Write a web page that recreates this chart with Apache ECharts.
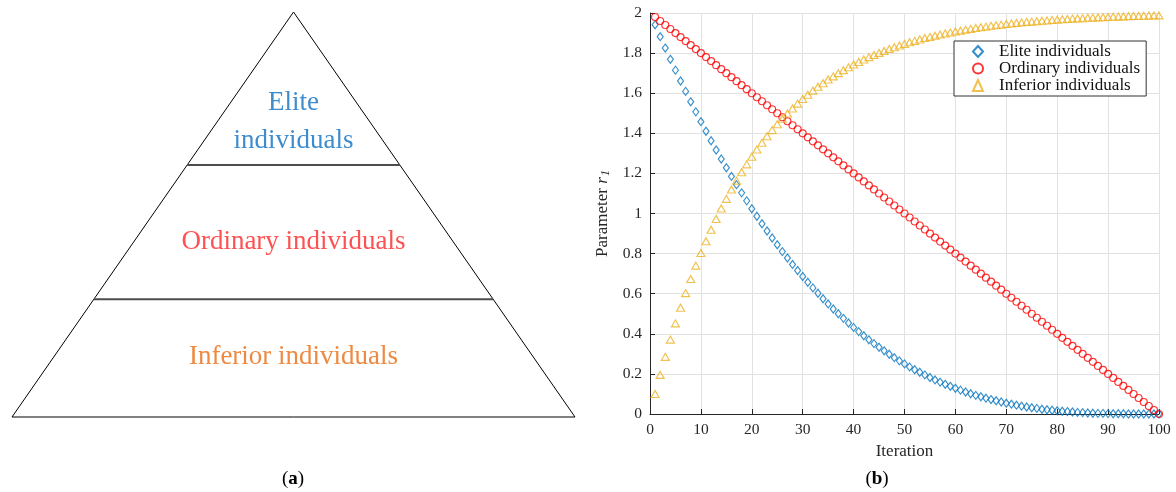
<!DOCTYPE html>
<html>
<head>
<meta charset="utf-8">
<script src="https://cdn.jsdelivr.net/npm/echarts@6/dist/echarts.min.js"></script>
<style>
  html, body { margin: 0; padding: 0; background: #fff; }
  #c { width: 1176px; height: 492px; }
</style>
</head>
<body>
<div id="c"></div>
<script>
// ---- panel (b) data: parameter r1 per iteration ----
const iterations = [
  1,2,3,4,5,6,7,8,9,10,11,12,13,14,15,16,17,18,19,20,
  21,22,23,24,25,26,27,28,29,30,31,32,33,34,35,36,37,38,39,40,
  41,42,43,44,45,46,47,48,49,50,51,52,53,54,55,56,57,58,59,60,
  61,62,63,64,65,66,67,68,69,70,71,72,73,74,75,76,77,78,79,80,
  81,82,83,84,85,86,87,88,89,90,91,92,93,94,95,96,97,98,99,100
];

const eliteR1 = [
  1.941,1.882,1.825,1.769,1.715,1.661,1.609,1.557,1.507,1.458,
  1.410,1.363,1.317,1.272,1.228,1.185,1.144,1.103,1.063,1.024,
  0.986,0.949,0.913,0.878,0.844,0.810,0.778,0.746,0.716,0.686,
  0.657,0.629,0.602,0.575,0.549,0.524,0.500,0.477,0.454,0.432,
  0.411,0.390,0.370,0.351,0.333,0.315,0.298,0.281,0.265,0.250,
  0.235,0.221,0.208,0.195,0.182,0.170,0.159,0.148,0.138,0.128,
  0.119,0.110,0.101,0.093,0.086,0.079,0.072,0.066,0.060,0.054,
  0.049,0.044,0.039,0.035,0.031,0.028,0.024,0.021,0.019,0.016,
  0.014,0.012,0.010,0.008,0.007,0.005,0.004,0.003,0.003,0.002,
  0.001,0.001,0.001,0.000,0.000,0.000,0.000,0.000,0.000,0.000
];

const ordinaryR1 = [
  1.98,1.96,1.94,1.92,1.90,1.88,1.86,1.84,1.82,1.80,
  1.78,1.76,1.74,1.72,1.70,1.68,1.66,1.64,1.62,1.60,
  1.58,1.56,1.54,1.52,1.50,1.48,1.46,1.44,1.42,1.40,
  1.38,1.36,1.34,1.32,1.30,1.28,1.26,1.24,1.22,1.20,
  1.18,1.16,1.14,1.12,1.10,1.08,1.06,1.04,1.02,1.00,
  0.98,0.96,0.94,0.92,0.90,0.88,0.86,0.84,0.82,0.80,
  0.78,0.76,0.74,0.72,0.70,0.68,0.66,0.64,0.62,0.60,
  0.58,0.56,0.54,0.52,0.50,0.48,0.46,0.44,0.42,0.40,
  0.38,0.36,0.34,0.32,0.30,0.28,0.26,0.24,0.22,0.20,
  0.18,0.16,0.14,0.12,0.10,0.08,0.06,0.04,0.02,0.00
];

const inferiorR1 = [
  0.100,0.195,0.285,0.371,0.452,0.530,0.603,0.673,0.740,0.803,
  0.862,0.919,0.973,1.025,1.073,1.120,1.164,1.206,1.245,1.283,
  1.319,1.353,1.385,1.416,1.445,1.473,1.499,1.524,1.548,1.571,
  1.592,1.613,1.632,1.650,1.668,1.684,1.700,1.715,1.729,1.743,
  1.756,1.768,1.780,1.791,1.801,1.811,1.821,1.829,1.838,1.846,
  1.854,1.861,1.868,1.875,1.881,1.887,1.893,1.898,1.903,1.908,
  1.912,1.917,1.921,1.925,1.929,1.932,1.936,1.939,1.942,1.945,
  1.948,1.950,1.953,1.955,1.957,1.959,1.961,1.963,1.965,1.967,
  1.969,1.970,1.972,1.973,1.974,1.976,1.977,1.978,1.979,1.980,
  1.981,1.982,1.983,1.984,1.985,1.985,1.986,1.987,1.988,1.988
];

const seriesNames = ['Elite individuals', 'Ordinary individuals', 'Inferior individuals'];

// ---- panel (a) data: pyramid in unit coordinates ----
const pyramidOutline = [[0, 0], [0.5, 1], [1, 0], [0, 0]];
const layerBoundaries = [0.291, 0.622];
const layerLabels = ['Elite\nindividuals', 'Ordinary individuals', 'Inferior individuals'];
const layerLabelHeights = [0.728, 0.432, 0.148];

const serif = "'Liberation Serif', 'DejaVu Serif', serif";
const ink = '#262626';
const colElite = '#0072BD', colOrdinary = '#FF0000', colInferior = '#EDB120';
const layerTextColors = ['#0d6fc2', '#ff2626', '#e96c12'];

const pairs = ys => iterations.map((x, i) => [x, ys[i]]);

// divider segments of the pyramid at each boundary height
const dividers = layerBoundaries.map(h => ({
  type: 'line', xAxisIndex: 1, yAxisIndex: 1, silent: true, clip: false,
  symbol: 'none', lineStyle: { color: '#4d4d4d', width: 2 },
  data: [[h / 2, h], [1 - h / 2, h]]
}));

const hollow = (color, symbol, size, name, ys) => ({
  name, type: 'scatter', xAxisIndex: 0, yAxisIndex: 0,
  symbol, symbolSize: size, silent: true,
  itemStyle: { color: 'rgba(255,255,255,0)', borderColor: color, borderWidth: 1.15 },
  data: pairs(ys)
});

const caption = (letter, x) => ({
  type: 'text', x, y: 479,
  style: {
    text: '{p|(}{b|' + letter + '}{p|)}', textAlign: 'center', textVerticalAlign: 'middle',
    rich: {
      p: { fontFamily: serif, fontSize: 19, fill: '#000' },
      b: { fontFamily: serif, fontSize: 19, fontWeight: 'bold', fill: '#000' }
    }
  }
});

const chart = echarts.init(document.getElementById('c'), null, { renderer: 'canvas' });

chart.setOption({
  animation: false,
  textStyle: { fontFamily: serif },
  grid: [
    { left: 650, right: 17, top: 13, bottom: 78 },
    { left: 12, top: 12, width: 563, height: 405 }
  ],
  xAxis: [
    {
      gridIndex: 0, type: 'value', min: 0, max: 100, interval: 10,
      name: 'Iteration', nameLocation: 'middle', nameGap: 28,
      nameTextStyle: { fontFamily: serif, fontSize: 17, color: ink },
      axisLine: { onZero: false, lineStyle: { color: ink, width: 1 } },
      axisTick: { inside: true, length: 5, lineStyle: { color: ink } },
      axisLabel: { fontFamily: serif, fontSize: 15.5, color: ink, margin: 8 },
      splitLine: { show: true, lineStyle: { color: '#e2e2e2', width: 1 } }
    },
    { gridIndex: 1, type: 'value', min: 0, max: 1, show: false }
  ],
  yAxis: [
    {
      gridIndex: 0, type: 'value', min: 0, max: 2, interval: 0.2,
      name: '{n|Parameter }{i|r}{s|1}', nameLocation: 'middle', nameGap: 38, nameRotate: 90,
      nameTextStyle: {
        color: ink,
        rich: {
          n: { fontFamily: serif, fontSize: 17, color: ink },
          i: { fontFamily: serif, fontSize: 17, fontStyle: 'italic', color: ink },
          s: { fontFamily: serif, fontSize: 12, fontStyle: 'italic', color: ink, padding: [6, 0, 0, 1] }
        }
      },
      axisLine: { show: true, onZero: false, lineStyle: { color: ink, width: 1 } },
      axisTick: { show: true, inside: true, length: 5, lineStyle: { color: ink } },
      axisLabel: { fontFamily: serif, fontSize: 15.5, color: ink, margin: 8 },
      splitLine: { show: true, lineStyle: { color: '#e2e2e2', width: 1 } }
    },
    { gridIndex: 1, type: 'value', min: 0, max: 1, show: false }
  ],
  legend: {
    data: seriesNames,
    orient: 'vertical',
    left: 954, top: 41,
    padding: [2, 6, 2, 18],
    itemGap: 0, itemWidth: 10, itemHeight: 11,
    backgroundColor: '#fff', borderColor: '#333', borderWidth: 1, borderRadius: 0,
    textStyle: { fontFamily: serif, fontSize: 17, color: '#111', lineHeight: 17, padding: [0, 0, 0, 11] }
  },
  graphic: [caption('a', 293), caption('b', 877)],
  series: [
    {
      type: 'line', xAxisIndex: 1, yAxisIndex: 1, silent: true, clip: false,
      symbol: 'none', lineStyle: { color: '#000', width: 1 },
      data: pyramidOutline
    },
    ...dividers,
    {
      type: 'scatter', xAxisIndex: 1, yAxisIndex: 1, silent: true,
      symbolSize: 1, itemStyle: { color: 'rgba(0,0,0,0)' },
      label: { show: true, position: 'inside', fontFamily: serif, fontSize: 27, lineHeight: 38, formatter: p => p.data.text },
      data: layerLabels.map((t, i) => ({
        value: [0.5, layerLabelHeights[i]], text: t,
        label: { color: layerTextColors[i] }
      }))
    },
    hollow(colElite, 'diamond', [6, 8], seriesNames[0], eliteR1),
    hollow(colOrdinary, 'circle', 7, seriesNames[1], ordinaryR1),
    hollow(colInferior, 'triangle', [8, 7], seriesNames[2], inferiorR1)
  ]
});
</script>
</body>
</html>
